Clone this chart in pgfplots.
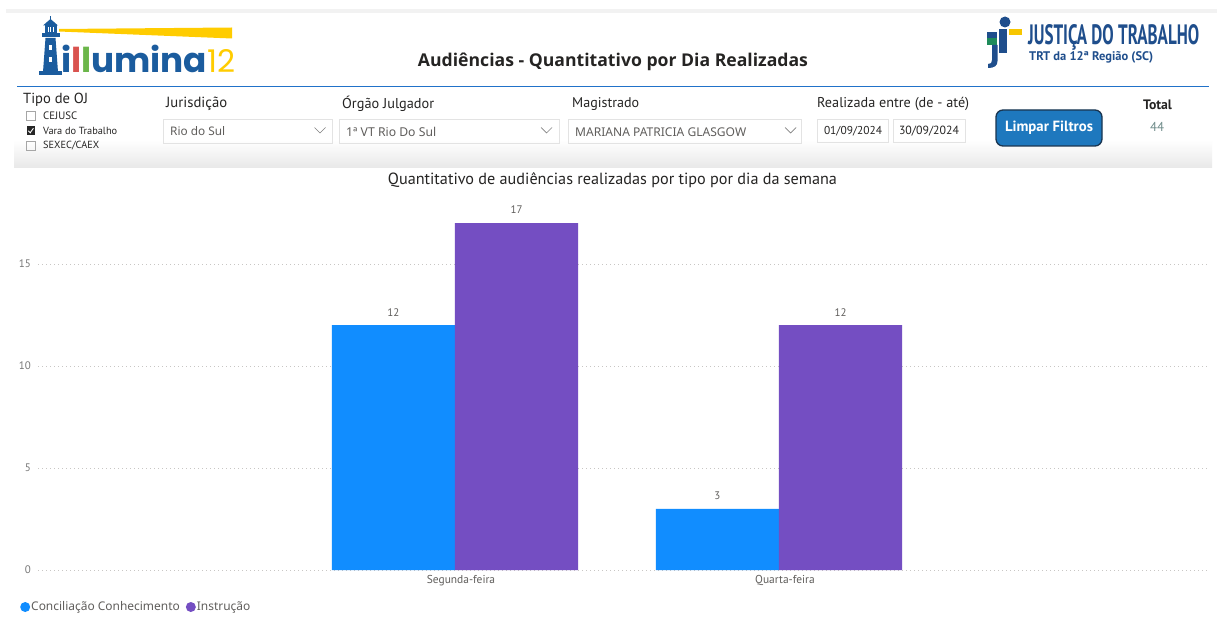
\documentclass[border=0pt]{standalone}
\usepackage{graphicx}
\usepackage{fontspec}
\usepackage{pgfplots}
\pgfplotsset{compat=1.18}
\setmainfont{PT Sans}
\newfontfamily\din{PT Sans}
\newfontfamily\segoe{Noto Sans}
\newfontfamily\segoeb{Open Sans}
\newfontfamily\pop{Poppins}
\definecolor{pbiblue}{HTML}{118DFF}
\definecolor{pbipurple}{HTML}{744EC2}
\definecolor{txtdark}{HTML}{252423}
\definecolor{txtgray}{HTML}{605E5C}
\definecolor{tickgray}{HTML}{777777}
\definecolor{gridgray}{HTML}{C8C6C4}
\definecolor{hdrblue}{HTML}{2172C9}
\definecolor{illblue}{HTML}{1B5C9E}
\definecolor{illred}{HTML}{D9534F}
\definecolor{illgreen}{HTML}{6BB64A}
\definecolor{illyellow}{HTML}{FFCC00}
\definecolor{jtblue}{HTML}{1F4E8C}
\definecolor{jtgreen}{HTML}{1E8B5A}
\definecolor{jtyellow}{HTML}{F7C600}
\definecolor{btnblue}{HTML}{1E78BE}
\definecolor{btnborder}{HTML}{1A3550}
\definecolor{boxgray}{HTML}{E3E3E3}
\definecolor{totalgray}{HTML}{6F8C8A}
\definecolor{panelgray}{HTML}{E8E8E8}
\newcommand{\fw}[2]{\resizebox{#1bp}{!}{#2}}
\begin{document}
\begin{tikzpicture}
\begin{scope}[x=1bp,y=-1bp]
\fill[white] (0,0) rectangle (1217,619);
\path[use as bounding box] (0,0) rectangle (1217,619);
% top strip
\fill[black!5] (6,9) rectangle (1217,13);
% filter panel shading
\shade[top color=white, bottom color=panelgray] (14,140) rectangle (1212,168);
% header blue line
\draw[hdrblue, line width=1.6bp] (17,86.5) -- (1209,86.5);
% ---- left logo
\fill[illyellow] (59,29) -- (232,27.5) -- (232,38.5) -- (59,31.5) -- cycle;
\fill[illblue] (39,75) rectangle (62,71.5);
\fill[illblue] (43,72) -- (58,72) -- (55.5,38) -- (45.5,38) -- cycle;
\fill[illblue] (41.5,33) rectangle (59.5,37);
\fill[illblue] (44.5,25) rectangle (56.5,33);
\fill[illblue] (43,25.5) -- (58,25.5) -- (50.5,19) -- cycle;
\fill[illblue] (50,16) rectangle (51,19);
\fill[white] (47.5,27) rectangle (48.5,32);
\fill[white] (50,27) rectangle (51,32);
\fill[white] (52.5,27) rectangle (53.5,32);
\fill[white] (49,45) rectangle (52,50);
\fill[white] (49,57) rectangle (52,62);
\node[anchor=base west, inner sep=0] at (61,73) {\fw{146}{\pop\bfseries\fontsize{38}{40}\selectfont\color{illblue}i\color{illred}l\color{illgreen}l\color{illblue}umina}};
\node[anchor=base west, inner sep=0] at (207,73) {\fw{28}{\pop\fontsize{38}{40}\selectfont\color{illyellow}12}};
% ---- page title
\node[inner sep=0] at (613,61.5) {\fw{390}{\segoeb\bfseries\fontsize{17}{19}\selectfont\color{txtdark}Audiências - Quantitativo por Dia Realizadas}};
% ---- right logo
\fill[jtblue] (1005,22) circle (5.5);
\fill[jtyellow] (1009,29) rectangle (1022,35);
\fill[jtblue] (987,32) rectangle (997,38);
\fill[jtgreen] (987,38) rectangle (997,45);
\fill[jtblue] (992,45) -- (997.5,45) -- (997.5,61) .. controls (997.5,66) and (994,68) .. (988,68) -- (988,64) .. controls (991,64) and (992,63) .. (992,60) -- cycle;
\fill[jtblue] (999,29) rectangle (1007,53);
\node[anchor=north west, inner sep=0] at (1028,24.5) {\resizebox{171bp}{20bp}{\din\bfseries\fontsize{20}{22}\selectfont\color{jtblue}JUSTIÇA DO TRABALHO}};
\node[anchor=west, inner sep=0] at (1029,57.5) {\fw{124}{\din\bfseries\fontsize{12}{14}\selectfont\color{jtblue}TRT da 12ª Região (SC)}};
% ---- filters
\node[anchor=west, inner sep=0] at (23,100) {\fw{65}{\din\fontsize{13}{15}\selectfont\color{txtdark}Tipo de OJ}};
\draw[black!35, line width=0.6bp] (26.5,111.5) rectangle (35,120);
\fill[black!85] (26.5,126.5) rectangle (35,135);
\draw[white, line width=0.9bp] (28.3,130.8) -- (30.2,132.8) -- (33.4,128.3);
\draw[black!35, line width=0.6bp] (26.5,141.5) rectangle (35,150);
\node[anchor=west, inner sep=0] at (43,116) {\fw{34}{\din\fontsize{10}{12}\selectfont\color{txtdark}CEJUSC}};
\node[anchor=west, inner sep=0] at (43,131) {\fw{74}{\din\fontsize{10}{12}\selectfont\color{txtdark}Vara do Trabalho}};
\node[anchor=west, inner sep=0] at (43,146) {\fw{56}{\din\fontsize{10}{12}\selectfont\color{txtdark}SEXEC/CAEX}};
% Jurisdicao
\node[anchor=west, inner sep=0] at (166,104) {\fw{61}{\din\fontsize{13.5}{15}\selectfont\color{txtdark}Jurisdição}};
\draw[boxgray, line width=0.8bp] (163,119) rectangle (332,143);
\node[anchor=west, inner sep=0] at (170,131.5) {\fw{55}{\segoe\fontsize{12.5}{14}\selectfont\color{txtgray}Rio do Sul}};
\draw[black!50, line width=0.7bp] (314.5,127.5) -- (320,133) -- (325.5,127.5);
% Orgao
\node[anchor=west, inner sep=0] at (342,104) {\fw{92}{\din\fontsize{13.5}{15}\selectfont\color{txtdark}Órgão Julgador}};
\draw[boxgray, line width=0.8bp] (339,119) rectangle (559,143);
\node[anchor=west, inner sep=0] at (346,131.5) {\fw{90}{\segoe\fontsize{12.5}{14}\selectfont\color{txtgray}1ª VT Rio Do Sul}};
\draw[black!50, line width=0.7bp] (541,127.5) -- (546.5,133) -- (552,127.5);
% Magistrado
\node[anchor=west, inner sep=0] at (572,104) {\fw{67}{\din\fontsize{13.5}{15}\selectfont\color{txtdark}Magistrado}};
\draw[boxgray, line width=0.8bp] (568,119) rectangle (801,143);
\node[anchor=west, inner sep=0] at (575,132) {\fw{171}{\segoe\fontsize{12.5}{14}\selectfont\color{txtgray}MARIANA PATRICIA GLASGOW}};
\draw[black!50, line width=0.7bp] (785,127.5) -- (790.5,133) -- (796,127.5);
% Realizada entre
\node[anchor=west, inner sep=0] at (817,104) {\fw{152}{\din\fontsize{13.5}{15}\selectfont\color{txtdark}Realizada entre (de - até)}};
\draw[boxgray, line width=0.8bp] (817,119) rectangle (888,142);
\draw[boxgray, line width=0.8bp] (893,119) rectangle (965,142);
\node[inner sep=0] at (853,131) {\fw{58}{\din\fontsize{11}{13}\selectfont\color{txtdark}01/09/2024}};
\node[inner sep=0] at (929,131) {\fw{60}{\din\fontsize{11}{13}\selectfont\color{txtdark}30/09/2024}};
% button
\draw[btnborder, fill=btnblue, line width=1.3bp, rounded corners=7bp] (996,110) rectangle (1102,146);
\node[inner sep=0] at (1049,128) {\fw{88}{\din\bfseries\fontsize{14}{16}\selectfont\color{white}Limpar Filtros}};
% total
\node[inner sep=0] at (1157.5,104.5) {\fw{29}{\din\bfseries\fontsize{13}{15}\selectfont\color{txtdark}Total}};
\node[inner sep=0] at (1157,127) {\fw{14}{\din\fontsize{13}{15}\selectfont\color{totalgray}44}};
% chart title
\node[inner sep=0] at (612.5,180) {\fw{449}{\din\fontsize{15}{17}\selectfont\color{txtdark}Quantitativo de audiências realizadas por tipo por dia da semana}};
\end{scope}
\begin{axis}[
  at={(38bp,-570bp)}, anchor=south west, scale only axis,
  width=1169bp, height=370bp,
  xmin=-1.287, xmax=2.321, ymin=0, ymax=18.137,
  axis x line*=bottom, axis y line*=left,
  axis line style={draw=none}, major tick length=0pt, tick style={draw=none},
  ytick={0,5,10,15}, ymajorgrids,
  grid style={draw=gridgray, line width=0.8bp, dash pattern=on 0.8bp off 3.2bp},
  xtick={0,1}, xticklabels={Segunda-feira,Quarta-feira},
  /pgf/number format/assume math mode=true,
  yticklabel style={font=\din\fontsize{11}{13}\selectfont, text=tickgray, anchor=east, inner sep=0pt, xshift=-7bp},
  xticklabel style={font=\din\fontsize{11.5}{13}\selectfont, text=txtgray, anchor=north, inner sep=0pt, yshift=-5bp, xshift=6bp},
  ybar, bar width=0.38,
  nodes near coords,
  nodes near coords style={font=\din\fontsize{11}{13}\selectfont, text=txtgray, anchor=south, inner sep=0pt, yshift=9bp},
  legend columns=2,
  legend cell align=left,
  legend style={at={(axis description cs:-0.0154,-0.1)}, anchor=west, draw=none, fill=none, inner sep=0pt,
    font=\segoe\fontsize{12}{14}\selectfont, text=txtgray,
    /tikz/every even column/.append style={column sep=5bp},
    nodes={inner sep=1bp}},
]
\addplot[fill=pbiblue, draw=none, bar shift=-0.19,
  legend image code/.code={\fill[pbiblue] (5bp,0bp) circle (5bp);}]
  coordinates {(0,12) (1,3)};
\addlegendentry{Conciliação Conhecimento}
\addplot[fill=pbipurple, draw=none, bar shift=0.19,
  legend image code/.code={\fill[pbipurple] (5bp,0bp) circle (5bp);}]
  coordinates {(0,17) (1,12)};
\addlegendentry{Instrução}
\end{axis}
\end{tikzpicture}
\end{document}
